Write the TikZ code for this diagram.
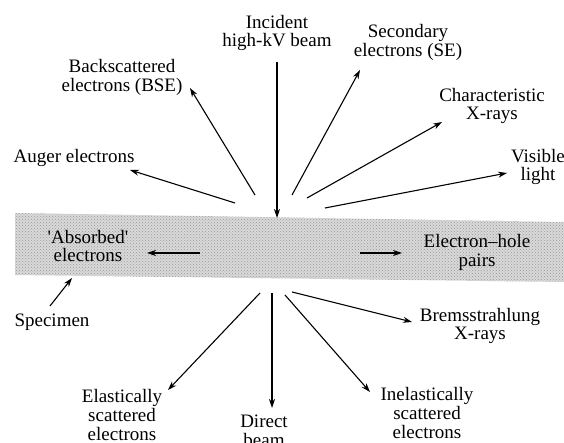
\documentclass[tikz,border=0pt]{standalone}
\usepackage{fontspec}
\setmainfont{Liberation Serif}
\newfontfamily\straightq[Ligatures=TeXOff]{Liberation Serif}
\usetikzlibrary{arrows.meta,patterns}
\begin{document}
\begin{tikzpicture}[x=1pt,y=1pt,
  lbl/.style={align=center,font=\fontsize{19}{18.7}\selectfont,inner sep=0pt},
  arr/.style={-{Stealth[length=9pt,width=6pt]},line width=1.1pt},
  ]
\useasboundingbox (0,0) rectangle (564,443);
% specimen band
\fill[gray!30] (15,230) -- (564,221) -- (564,161) -- (15,168) -- cycle;
\fill[pattern=crosshatch dots, pattern color=gray!80] (15,230) -- (564,221) -- (564,161) -- (15,168) -- cycle;

% labels
\node[lbl] (inc) at (277,410) {Incident\\high-kV beam};
\node[lbl] (bse) at (122,365.5) {Backscattered\\electrons (BSE)};
\node[lbl] (aug) at (74,285) {Auger electrons};
\node[lbl] (se) at (408,400.5) {Secondary\\electrons (SE)};
\node[lbl] (chx) at (492,337) {Characteristic\\X-rays};
\node[lbl] (vis) at (538,276) {Visible\\light};
\node[lbl] (abs) at (88,197) {{\straightq'}Absorbed{\straightq'}\\electrons};
\node[lbl] (eh) at (477,190.5) {Electron–hole\\pairs};
\node[lbl] (spec) at (52,121) {Specimen};
\node[lbl] (brem) at (480,117) {Bremsstrahlung\\X-rays};
\node[lbl] (elas) at (122,28) {Elastically\\scattered\\electrons};
\node[lbl] (dir) at (264,12) {Direct\\beam};
\node[lbl] (inel) at (427,30) {Inelastically\\scattered\\electrons};

% connector end points
\coordinate (incS) at (277,381);  \coordinate (incE) at (277,225);
\coordinate (bseS) at (255,248);  \coordinate (bseE) at (190,355);
\coordinate (augS) at (235,240);  \coordinate (augE) at (130,273);
\coordinate (seS) at (292,248);   \coordinate (seE) at (360,373);
\coordinate (chxS) at (307,245);  \coordinate (chxE) at (442,321);
\coordinate (visS) at (325,235);  \coordinate (visE) at (507,270);
\coordinate (absS) at (200,190);  \coordinate (absE) at (147,190);
\coordinate (ehS) at (360,190);   \coordinate (ehE) at (402,190);
\coordinate (specS) at (50,137);  \coordinate (specE) at (72,165);
\coordinate (bremS) at (292,151); \coordinate (bremE) at (412,121);
\coordinate (elasS) at (260,150); \coordinate (elasE) at (168,53);
\coordinate (dirS) at (272,150);  \coordinate (dirE) at (272,35);
\coordinate (inelS) at (285,148); \coordinate (inelE) at (370,51);

\draw[arr] (incS) -- (incE);
\draw[arr] (bseS) -- (bseE);
\draw[arr] (augS) -- (augE);
\draw[arr] (seS) -- (seE);
\draw[arr] (chxS) -- (chxE);
\draw[arr] (visS) -- (visE);
\draw[arr] (absS) -- (absE);
\draw[arr] (ehS) -- (ehE);
\draw[arr] (specS) -- (specE);
\draw[arr] (bremS) -- (bremE);
\draw[arr] (elasS) -- (elasE);
\draw[arr] (dirS) -- (dirE);
\draw[arr] (inelS) -- (inelE);
\end{tikzpicture}
\end{document}
